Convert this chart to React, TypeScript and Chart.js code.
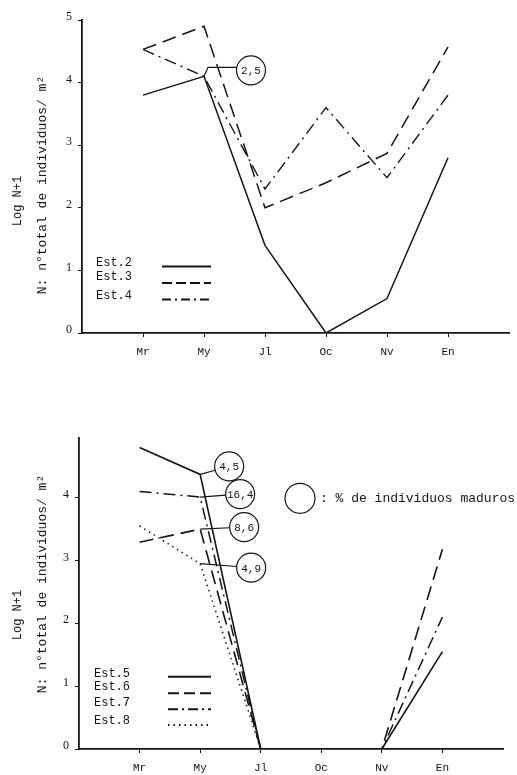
import React, { useEffect, useRef } from 'react';
import { Chart, registerables } from 'chart.js';
Chart.register(...registerables);

// ---------- data ----------
const months = ['Mr', 'My', 'Jl', 'Oc', 'Nv', 'En'];
const topYTicks = [0, 1, 2, 3, 4, 5];
const bottomYTicks = [0, 1, 2, 3, 4];

const topLabels = ['Est.2', 'Est.3', 'Est.4'];
const est2 = [3.8, 4.1, 1.4, 0, 0.55, 2.8];
const est3 = [4.53, 4.9, 2.0, 2.4, 2.87, 4.57];
const est4 = [4.53, 4.1, 2.3, 3.6, 2.48, 3.8];

const bottomLabels = ['Est.5', 'Est.6', 'Est.7', 'Est.8'];
const est5 = [4.8, 4.37, 0, 0, 0, 1.55];
const est6 = [3.29, 3.5, 0, 0, 0, 3.18];
const est7 = [4.1, 4.01, 0, 0, 0, 2.1];
const est8 = [3.55, 2.95, 0, 0, 0, null];

const topNoteLabels = ['2,5'];
const bottomNoteLabels = ['4,5', '16,4', '8,6', '4,9'];

const yTitle1 = 'Log N+1';
const yTitle2 = 'N: n°total de individuos/ m²';
const maturityLegend = ': % de individuos maduros';

// ---------- styles ----------
const INK = '#141414';
const MONO = '"Liberation Mono", "DejaVu Sans Mono", monospace';
const SERIF = '"Liberation Serif", "DejaVu Serif", serif';
const DASH = {
  solid: [] as number[],
  dashed: [14, 7],
  dashdot: [12, 5, 2, 5],
  dotted: [1.5, 4],
};

type Series = { label: string; values: (number | null)[]; dash: number[]; width: number };
type Note = { label: string; series: number; index: number; dx: number; dy: number; r: number; elbow?: boolean };

interface Spec {
  width: number;
  height: number;
  padTop: number;
  padRight: number;
  yWidth: number;
  xHeight: number;
  yMax: number;
  yTicks: number[];
  series: Series[];
  legend: { tx: number; ty: number; x1: number; x2: number; ly: number; dash: number[] }[];
  notes: Note[];
  titles: { text: string; x: number; y: number; size: number }[];
  extra?: (ctx: CanvasRenderingContext2D) => void;
}

function buildChart(canvas: HTMLCanvasElement, spec: Spec) {
  const overlay = {
    id: 'overlay',
    afterDraw(chart: any) {
      const ctx: CanvasRenderingContext2D = chart.ctx;
      const xs = chart.scales.x;
      const ys = chart.scales.y;
      ctx.save();
      ctx.fillStyle = INK;
      ctx.strokeStyle = INK;
      // axis titles
      spec.titles.forEach((t) => {
        ctx.save();
        ctx.translate(t.x, t.y);
        ctx.rotate(-Math.PI / 2);
        ctx.font = `${t.size}px ${MONO}`;
        ctx.textAlign = 'center';
        ctx.textBaseline = 'middle';
        ctx.fillText(t.text, 0, 0);
        ctx.restore();
      });
      // legend
      spec.series.forEach((s, i) => {
        const L = spec.legend[i];
        ctx.font = `12px ${MONO}`;
        ctx.textAlign = 'left';
        ctx.textBaseline = 'middle';
        ctx.fillText(s.label, L.tx, L.ty);
        ctx.beginPath();
        ctx.setLineDash(L.dash);
        ctx.lineWidth = s.width + 0.4;
        ctx.moveTo(L.x1, L.ly);
        ctx.lineTo(L.x2, L.ly);
        ctx.stroke();
      });
      ctx.setLineDash([]);
      // notes (circles with % mature)
      spec.notes.forEach((n) => {
        const v = spec.series[n.series].values[n.index] as number;
        const ax = xs.getPixelForValue(n.index + 1);
        const ay = ys.getPixelForValue(v);
        const cx = ax + n.dx;
        const cy = ay + n.dy;
        ctx.lineWidth = 1.2;
        ctx.beginPath();
        if (n.elbow) {
          const ly = cy - 3;
          const ex = cx - Math.sqrt(n.r * n.r - 9);
          ctx.moveTo(ax, ay);
          ctx.lineTo(ax + 4, ly);
          ctx.lineTo(ex, ly);
        } else {
          const ddx = cx - ax;
          const ddy = cy - ay;
          const d = Math.hypot(ddx, ddy);
          ctx.moveTo(ax, ay);
          ctx.lineTo(cx - (n.r * ddx) / d, cy - (n.r * ddy) / d);
        }
        ctx.stroke();
        ctx.beginPath();
        ctx.arc(cx, cy, n.r, 0, Math.PI * 2);
        ctx.stroke();
        ctx.font = `11px ${MONO}`;
        ctx.textAlign = 'center';
        ctx.textBaseline = 'middle';
        ctx.fillText(n.label, cx, cy + 1);
      });
      if (spec.extra) spec.extra(ctx);
      ctx.restore();
    },
  };

  return new Chart(canvas, {
    type: 'line',
    data: {
      datasets: spec.series.map((s) => ({
        label: s.label,
        data: s.values.map((v, i) => ({ x: i + 1, y: v })),
        borderColor: INK,
        borderWidth: s.width,
        borderDash: s.dash,
        pointRadius: 0,
        tension: 0,
        fill: false,
      })),
    },
    options: {
      responsive: false,
      animation: false,
      events: [],
      layout: { padding: { top: spec.padTop, right: spec.padRight, left: 0, bottom: 0 } },
      plugins: { legend: { display: false }, tooltip: { enabled: false }, title: { display: false } },
      scales: {
        x: {
          type: 'linear',
          min: 0,
          max: 7,
          afterBuildTicks: (s: any) => {
            s.ticks = months.map((_, i) => ({ value: i + 1 }));
          },
          afterFit: (s: any) => {
            s.height = spec.xHeight;
          },
          ticks: {
            autoSkip: false,
            maxRotation: 0,
            padding: 8,
            color: INK,
            font: { family: MONO, size: 11 },
            callback: (v: any) => months[Number(v) - 1] ?? '',
          },
          grid: { display: true, drawOnChartArea: false, drawTicks: true, tickLength: 4, color: INK, lineWidth: 1 },
          border: { display: true, color: INK, width: 1.8 },
        },
        y: {
          type: 'linear',
          min: 0,
          max: spec.yMax,
          afterBuildTicks: (s: any) => {
            s.ticks = spec.yTicks.map((v) => ({ value: v }));
          },
          afterFit: (s: any) => {
            s.width = spec.yWidth;
          },
          ticks: {
            padding: 6,
            labelOffset: -3,
            color: INK,
            font: { family: SERIF, size: 12 },
            callback: (v: any) => String(v),
          },
          grid: { display: true, drawOnChartArea: false, drawTicks: true, tickLength: 4, color: INK, lineWidth: 1 },
          border: { display: true, color: INK, width: 1.8 },
        },
      },
    },
    plugins: [overlay],
  } as any);
}

const topSpec: Spec = {
  width: 517,
  height: 390,
  padTop: 20,
  padRight: 8,
  yWidth: 82,
  xHeight: 57,
  yMax: 5,
  yTicks: topYTicks,
  series: [
    { label: topLabels[0], values: est2, dash: DASH.solid, width: 1.5 },
    { label: topLabels[1], values: est3, dash: DASH.dashed, width: 1.5 },
    { label: topLabels[2], values: est4, dash: DASH.dashdot, width: 1.4 },
  ],
  legend: [
    { tx: 96, ty: 263, x1: 162, x2: 211, ly: 266.5, dash: [] },
    { tx: 96, ty: 277, x1: 162, x2: 211, ly: 283, dash: [10, 4] },
    { tx: 96, ty: 295.5, x1: 162, x2: 211, ly: 299.5, dash: [9, 4, 2, 4] },
  ],
  notes: [{ label: topNoteLabels[0], series: 0, index: 1, dx: 47, dy: -6, r: 14.5, elbow: true }],
  titles: [
    { text: yTitle1, x: 17.5, y: 201, size: 12 },
    { text: yTitle2, x: 43, y: 185, size: 13 },
  ],
};

const bottomSpec: Spec = {
  width: 517,
  height: 385,
  padTop: 48,
  padRight: 14,
  yWidth: 79,
  xHeight: 26,
  yMax: 4.95,
  yTicks: bottomYTicks,
  series: [
    { label: bottomLabels[0], values: est5, dash: DASH.solid, width: 1.6 },
    { label: bottomLabels[1], values: est6, dash: DASH.dashed, width: 1.6 },
    { label: bottomLabels[2], values: est7, dash: DASH.dashdot, width: 1.5 },
    { label: bottomLabels[3], values: est8, dash: DASH.dotted, width: 1.5 },
  ],
  legend: [
    { tx: 94, ty: 284, x1: 168, x2: 211, ly: 286.7, dash: [] },
    { tx: 94, ty: 296.7, x1: 168, x2: 211, ly: 303.3, dash: [11, 5] },
    { tx: 94, ty: 312.7, x1: 168, x2: 211, ly: 319.3, dash: [10, 4, 2, 4] },
    { tx: 94, ty: 331, x1: 168, x2: 211, ly: 335, dash: [1.5, 4] },
  ],
  notes: [
    { label: bottomNoteLabels[0], series: 0, index: 1, dx: 29, dy: -8, r: 14.5 },
    { label: bottomNoteLabels[1], series: 2, index: 1, dx: 40, dy: -3, r: 14.5 },
    { label: bottomNoteLabels[2], series: 1, index: 1, dx: 44, dy: -2, r: 14.5 },
    { label: bottomNoteLabels[3], series: 3, index: 1, dx: 51, dy: 4, r: 14.5 },
  ],
  titles: [
    { text: yTitle1, x: 17.5, y: 225, size: 12 },
    { text: yTitle2, x: 43, y: 194, size: 13 },
  ],
  extra: (ctx) => {
    ctx.lineWidth = 1.2;
    ctx.beginPath();
    ctx.arc(300, 108.3, 15, 0, Math.PI * 2);
    ctx.stroke();
    ctx.font = `13px ${MONO}`;
    ctx.textAlign = 'left';
    ctx.textBaseline = 'middle';
    ctx.fillText(maturityLegend, 320, 108.5);
  },
};

function Panel({ spec, top }: { spec: Spec; top: number }) {
  const ref = useRef<HTMLCanvasElement>(null);
  useEffect(() => {
    if (!ref.current) return;
    const chart = buildChart(ref.current, spec);
    return () => chart.destroy();
  }, [spec]);
  return (
    <canvas
      ref={ref}
      width={spec.width}
      height={spec.height}
      style={{ position: 'absolute', left: 0, top, width: spec.width, height: spec.height, display: 'block' }}
    />
  );
}

export default function App() {
  return (
    <div style={{ position: 'absolute', left: 0, top: 0, width: 517, height: 775, background: '#fff' }}>
      <Panel spec={topSpec} top={0} />
      <Panel spec={bottomSpec} top={390} />
    </div>
  );
}
